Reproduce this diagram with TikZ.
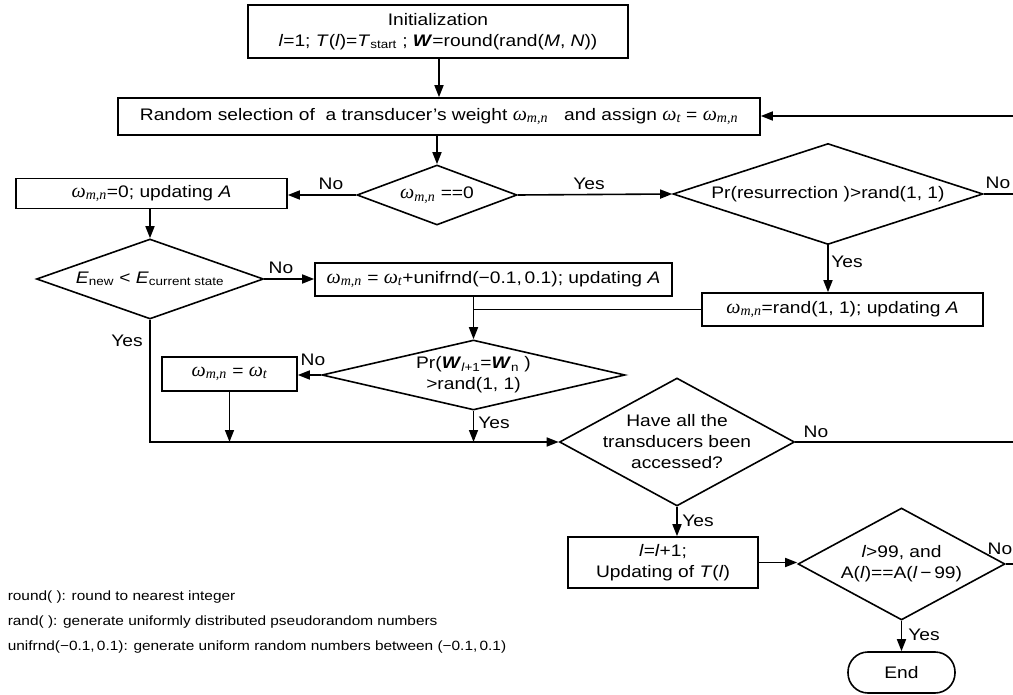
\documentclass[tikz,border=0pt]{standalone}
\usepackage{fontspec}
\setmainfont[FakeStretch=1.15]{Liberation Sans}
\newfontfamily\grk[Scale=1.2]{Liberation Serif}
\usetikzlibrary{shapes.geometric,arrows.meta}
\newcommand\mainfs{\fontsize{16.7}{21}\selectfont}
\newcommand\notefs{\fontsize{13.4}{16}\selectfont}
\newcommand\om{{\grk\itshape ω}}
\newcommand\sbs[1]{\textsubscript{\grk\itshape #1}}
\newcommand\wmn{\om\sbs{m,n}}
\newcommand\wt{\om\sbs{t}}
\begin{document}
\begin{tikzpicture}[x=1pt,y=-1pt, line width=1.6pt,
  box/.style={draw, rectangle, inner sep=0pt, align=center, font=\mainfs},
  dia/.style={draw, diamond, inner sep=0pt},
  dtext/.style={align=center, font=\mainfs, inner sep=0pt},
  lbl/.style={font=\mainfs, inner sep=1pt},
  note/.style={font=\notefs, anchor=west, inner sep=0pt},
  arr/.style={-{Triangle[length=12pt,width=9pt]}},
]
\useasboundingbox (0,0) rectangle (1013,695);

% boxes
\node[box, minimum width=380pt, minimum height=53pt] (init) at (438,31.5)
  {Initialization\\ \textit{l}=1; \textit{T}(\textit{l})=\textit{T}\textsubscript{start} ; \textbf{\textit{W}}=round(rand(\textit{M}, \textit{N}))};
\node[box, minimum width=642pt, minimum height=37pt] (rsel) at (439,116.5)
  {Random selection of\ \ a transducer’s weight \wmn\ \ \ and assign \wt\ = \wmn};
\node[box, minimum width=271pt, minimum height=30pt] (b0) at (151.5,193.5)
  {\wmn=0; updating \textit{A}};
\node[box, minimum width=281pt, minimum height=33pt] (brand) at (842.5,309.5)
  {\wmn=rand(1, 1); updating \textit{A}};
\node[box, minimum width=357pt, minimum height=33pt] (bu) at (493.5,279.5)
  {\wmn\ = \wt+unifrnd(−0.1,\,0.1); updating \textit{A}};
\node[box, minimum width=135pt, minimum height=34pt] (bt) at (229.5,374)
  {\wmn\ = \wt};
\node[box, minimum width=190pt, minimum height=51pt] (binc) at (663,562.5)
  {\textit{l}=\textit{l}+1;\\Updating of \textit{T}(\textit{l})};
\node[box, minimum width=107pt, minimum height=41pt, rounded corners=20pt] (end) at (901.5,672.5)
  {End};

% diamonds
\node[dia, minimum width=160pt, minimum height=60pt] (d1) at (437,195) {};
\node[dtext] (d1t) at (d1) {\wmn\ ==0};
\node[dia, minimum width=310pt, minimum height=101pt] (d2) at (828,194) {};
\node[dtext] (d2t) at (d2) {Pr(resurrection )>rand(1, 1)};
\node[dia, minimum width=227pt, minimum height=80pt] (dE) at (150,279) {};
\node[dtext] (dEt) at (dE) {\textit{E}\textsubscript{new} < \textit{E}\textsubscript{current state}};
\node[dia, minimum width=303pt, minimum height=70pt] (d3) at (473.5,375) {};
\node[dtext] (d3t) at (d3) {Pr(\textbf{\textit{W}}\textsubscript{\textit{l}+1}=\textbf{\textit{W}}\textsubscript{n} )\\>rand(1, 1)};
\node[dia, minimum width=235pt, minimum height=128pt] (d4) at (677,442) {};
\node[dtext] (d4t) at (d4) {Have all the\\transducers been\\accessed?};
\node[dia, minimum width=207pt, minimum height=112pt] (d5) at (901.5,564) {};
\node[dtext] (d5t) at (d5) {\textit{l}>99, and\\A(\textit{l})==A(\textit{l}\,−\,99)};

% free ends at the right border
\coordinate (rin) at (1013,116);
\coordinate (r2) at (1013,194);
\coordinate (r4) at (1013,442);
\coordinate (r5) at (1013,564);

% connectors
\draw[arr] (init.south -| rsel.north) -- (rsel.north);
\draw[arr] (rin) -- (rin -| rsel.east);
\draw[arr] (rsel.south -| d1.north) -- (d1.north);
\draw[arr] (d1.west) -- (d1.west -| b0.east);
\draw[arr] (d1.east) -- (d2.west);
\draw (d2.east) -- (r2);
\draw[arr] (d2.south) -- (d2.south |- brand.north);
\draw[arr] (dE.north |- b0.south) -- (dE.north);
\draw[arr] (dE.east) -- (dE.east -| bu.west);
\draw[arr] (bu.south -| d3.north) -- (d3.north);
\draw (brand.west) -- (brand.west -| d3.north);
\draw[arr] (d3.west) -- (d3.west -| bt.east);
\draw[arr] (dE.south) |- (d4.west);
\draw[arr] (bt.south) -- (bt.south |- d4.west);
\draw[arr] (d3.south) -- (d3.south |- d4.west);
\draw (d4.east) -- (r4);
\draw[arr] (d4.south) -- (d4.south |- binc.north);
\draw[arr] (binc.east) -- (binc.east -| d5.west);
\draw (d5.east) -- (r5);
\draw[arr] (d5.south) -- (end.north);

% branch labels
\node[lbl] (l1) at (331,184) {No};
\node[lbl] (l2) at (589,184) {Yes};
\node[lbl] (l3) at (998,183) {No};
\node[lbl] (l4) at (847,262) {Yes};
\node[lbl] (l5) at (281,268) {No};
\node[lbl] (l6) at (127,341) {Yes};
\node[lbl] (l7) at (313,360) {No};
\node[lbl] (l8) at (494,423) {Yes};
\node[lbl] (l9) at (816,432) {No};
\node[lbl] (l10) at (698,521) {Yes};
\node[lbl] (l11) at (1000,549) {No};
\node[lbl] (l12) at (924,635) {Yes};

% notes
\node[note] (n1) at (7,597) {round( ): round to nearest integer};
\node[note] (n2) at (7,622) {rand( ): generate uniformly distributed pseudorandom numbers};
\node[note] (n3) at (7,647) {unifrnd(−0.1,\,0.1): generate uniform random numbers between (−0.1,\,0.1)};
\end{tikzpicture}
\end{document}
